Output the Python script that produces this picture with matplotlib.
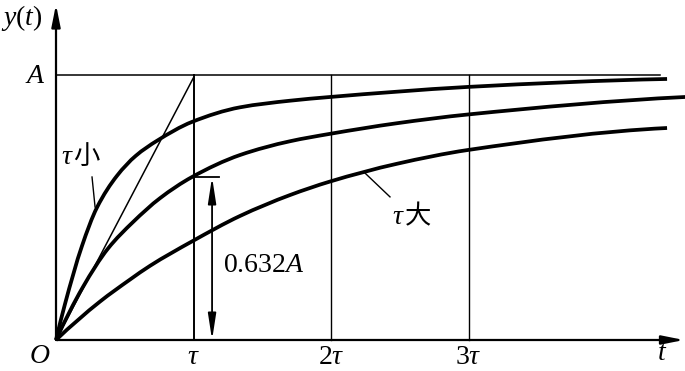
import matplotlib
matplotlib.use('Agg')
import matplotlib.pyplot as plt
from matplotlib.path import Path
from matplotlib.patches import PathPatch

plt.rcParams['mathtext.fontset'] = 'custom'
plt.rcParams['mathtext.rm'] = 'Liberation Serif'
plt.rcParams['mathtext.it'] = 'Liberation Serif:italic'
plt.rcParams['font.family'] = ['Liberation Serif', 'Noto Sans CJK SC']

# ---- data (t in units of tau, y as fraction of A) ----
t_small = [0, 0.065, 0.189, 0.298, 0.444, 0.58, 0.735, 0.989, 1.338, 1.702, 1.993, 2.48, 2.996, 4.444]
y_small = [0, 0.135, 0.355, 0.500, 0.620, 0.695, 0.752, 0.823, 0.878, 0.903, 0.917, 0.937, 0.955, 0.985]

t_mid = [0, 0.196, 0.378, 0.56, 0.756, 0.989, 1.338, 1.702, 1.993, 2.48, 2.996, 4.575]
y_mid = [0, 0.200, 0.345, 0.445, 0.535, 0.615, 0.698, 0.750, 0.778, 0.818, 0.851, 0.917]

t_large = [0, 0.32, 0.538, 0.684, 0.989, 1.338, 1.702, 1.993, 2.48, 2.996, 4.444]
y_large = [0, 0.145, 0.228, 0.280, 0.372, 0.468, 0.547, 0.598, 0.665, 0.717, 0.800]

level_A = 1.0
level_632 = 0.615
x_ticks = [1, 2, 3]
x_tick_labels = [r'$\tau$', r'$2\tau$', r'$3\tau$']


def smooth_path(xs, ys):
    """Monotone cubic (Fritsch-Carlson) curve through the given points as Bezier path."""
    n = len(xs)
    h = [xs[i + 1] - xs[i] for i in range(n - 1)]
    dl = [(ys[i + 1] - ys[i]) / h[i] for i in range(n - 1)]
    d = [0.0] * n
    for i in range(1, n - 1):
        if dl[i - 1] * dl[i] <= 0:
            d[i] = 0.0
        else:
            w1 = 2 * h[i] + h[i - 1]
            w2 = h[i] + 2 * h[i - 1]
            d[i] = (w1 + w2) / (w1 / dl[i - 1] + w2 / dl[i])
    d0 = ((2 * h[0] + h[1]) * dl[0] - h[0] * dl[1]) / (h[0] + h[1])
    if d0 * dl[0] <= 0:
        d0 = 0.0
    d[0] = d0
    dn = ((2 * h[-1] + h[-2]) * dl[-1] - h[-1] * dl[-2]) / (h[-1] + h[-2])
    if dn * dl[-1] <= 0:
        dn = 0.0
    d[-1] = dn
    verts = [(xs[0], ys[0])]
    codes = [Path.MOVETO]
    for i in range(n - 1):
        c1 = (xs[i] + h[i] / 3, ys[i] + d[i] * h[i] / 3)
        c2 = (xs[i + 1] - h[i] / 3, ys[i + 1] - d[i + 1] * h[i] / 3)
        verts += [c1, c2, (xs[i + 1], ys[i + 1])]
        codes += [Path.CURVE4] * 3
    return Path(verts, codes)


fig = plt.figure(figsize=(6.85, 3.71), dpi=100)
ax = fig.add_axes([0, 0, 1, 1])
ax.set_xlim(-0.4073, 4.5745)
ax.set_ylim(-0.117, 1.283)
ax.axis('off')

k = 'black'
# axes with arrows
ax.annotate('', xy=(4.567, 0), xytext=(0, 0),
            arrowprops=dict(arrowstyle='-|>,head_length=1.1,head_width=0.22',
                            mutation_scale=12, lw=1.6, color=k, shrinkA=0, shrinkB=0))
ax.annotate('', xy=(0, 1.266), xytext=(0, 0),
            arrowprops=dict(arrowstyle='-|>,head_length=1.1,head_width=0.22',
                            mutation_scale=12, lw=1.6, color=k, shrinkA=0, shrinkB=0))

# A line and grid verticals
ax.plot([0, 4.393], [level_A, level_A], color=k, lw=1.1)
for xt in x_ticks:
    ax.plot([xt, xt], [0, level_A], color=k, lw=1.4 if xt == 1 else 1.0)

# tangent line
ax.plot([0, 1], [0, level_A * 0.99], color=k, lw=1.1)

# curves
for xs, ys in [(t_small, y_small), (t_mid, y_mid), (t_large, y_large)]:
    ax.add_patch(PathPatch(smooth_path(xs, ys), fill=False, lw=2.7, ec=k,
                           joinstyle='round', capstyle='butt'))

# 0.632A dimension
ax.plot([1, 1.185], [level_632, level_632], color=k, lw=1.3)
ax.annotate('', xy=(1.135, level_632), xytext=(1.135, 0),
            arrowprops=dict(arrowstyle='<|-|>,head_length=1.3,head_width=0.2',
                            mutation_scale=12, lw=1.3, color=k, shrinkA=0, shrinkB=0))
ax.text(1.215, 0.283, r'$0.632A$', fontsize=20, ha='left', va='center', color=k)

# pointers and labels
cjk = 'Noto Sans CJK SC'
ax.plot([0.262, 0.284], [0.615, 0.502], color=k, lw=1.0)
ax.text(0.128, 0.690, r'$\tau$', fontsize=20, ha='right', va='center', color=k)
ax.text(0.128, 0.693, '小', fontsize=19, ha='left', va='center', color=k,
        family=[cjk], fontweight='light')
ax.plot([2.247, 2.429], [0.630, 0.540], color=k, lw=1.0)
ax.text(2.535, 0.462, r'$\tau$', fontsize=20, ha='right', va='center', color=k)
ax.text(2.535, 0.465, '大', fontsize=19, ha='left', va='center', color=k,
        family=[cjk], fontweight='light')

ax.text(-0.247, 1.215, r'$y(t)$', fontsize=20, ha='center', va='center', color=k)
ax.text(-0.153, 0.996, r'$A$', fontsize=20, ha='center', va='center', color=k)
ax.text(-0.116, -0.062, r'$O$', fontsize=20, ha='center', va='center', color=k)
for xt, lab in zip(x_ticks, x_tick_labels):
    ax.text(xt, -0.066, lab, fontsize=20, ha='center', va='center', color=k)
ax.text(4.407, -0.05, r'$t$', fontsize=20, ha='center', va='center', color=k)

fig.savefig('out.png', dpi=100)
